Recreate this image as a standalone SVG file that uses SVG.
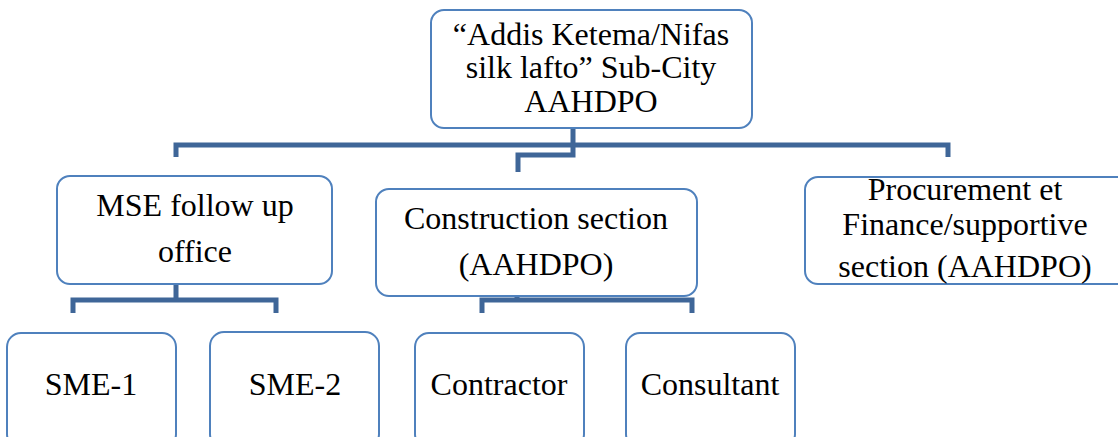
<svg xmlns="http://www.w3.org/2000/svg" width="1118" height="437" viewBox="0 0 1118 437">
<style>
.box{fill:#fff;stroke:#4f81bd;stroke-width:2}
.t{font-family:"Liberation Serif","Times New Roman",serif;font-size:32px;fill:#000;text-anchor:middle}
.c{fill:none;stroke:#3f6698;stroke-width:5;stroke-linejoin:miter;stroke-linecap:butt}
.f{fill:none;stroke:#dde5ef;stroke-width:5}
</style>
<rect width="1118" height="437" fill="#fff"/>
<g id="connectors">
<path class="f" d="M573 112V128M176 268V284M517 281V296"/>
<path class="c" d="M176 157V145H948V157"/>
<path class="c" d="M573 128V155H518V172"/>
<path class="c" d="M73 313V300H276V313M176 284V300"/>
<path class="c" d="M482 313V300H692V313M517 296V300"/>
</g>
<g id="n-top">
<rect class="box" x="431" y="10" width="321" height="118" rx="13"/>
<text class="t" x="591" y="45">“Addis Ketema/Nifas</text>
<text class="t" x="591" y="78">silk lafto” Sub-City</text>
<text class="t" x="591" y="112">AAHDPO</text>
</g>
<g id="n-mse">
<rect class="box" x="57" y="176" width="275" height="108" rx="13"/>
<text class="t" x="195" y="216">MSE follow up</text>
<text class="t" x="195" y="262">office</text>
</g>
<g id="n-construction">
<rect class="box" x="376" y="189" width="321" height="107" rx="13"/>
<text class="t" x="536" y="229">Construction section</text>
<text class="t" x="536" y="275">(AAHDPO)</text>
</g>
<g id="n-procurement">
<rect class="box" x="805" y="177" width="330" height="107" rx="13"/>
<text class="t" x="965" y="200">Procurement et</text>
<text class="t" x="965" y="235">Finance/supportive</text>
<text class="t" x="965" y="277">section (AAHDPO)</text>
</g>
<g id="n-sme1">
<rect class="box" x="7" y="333" width="169" height="115" rx="14"/>
<text class="t" x="91" y="395">SME-1</text>
</g>
<g id="n-sme2">
<rect class="box" x="210" y="332" width="169" height="116" rx="14"/>
<text class="t" x="295" y="395">SME-2</text>
</g>
<g id="n-contractor">
<rect class="box" x="415" y="333" width="169" height="115" rx="14"/>
<text class="t" x="499" y="395">Contractor</text>
</g>
<g id="n-consultant">
<rect class="box" x="626" y="333" width="169" height="115" rx="14"/>
<text class="t" x="710" y="395">Consultant</text>
</g>
</svg>
